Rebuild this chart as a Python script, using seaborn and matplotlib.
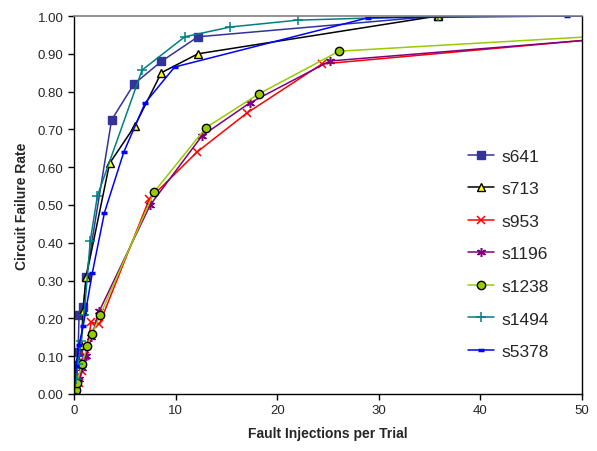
import matplotlib
matplotlib.use("Agg")
import matplotlib.pyplot as plt
import seaborn as sns
import numpy as np
from matplotlib.ticker import FormatStrFormatter, MultipleLocator

sns.set_style("white")
plt.rcParams['font.family'] = ['Liberation Sans', 'DejaVu Sans']

# ---- data ----
s641_x = [0, 0.1, 0.4, 0.5, 0.9, 1.2, 3.7, 5.9, 8.6, 12.2, 35.8, 50]
s641_y = [0, 0.03, 0.11, 0.21, 0.23, 0.31, 0.725, 0.82, 0.88, 0.945, 1.0, 1.0]

s713_x = [0, 0.2, 0.4, 0.7, 0.9, 1.2, 3.5, 6.0, 8.6, 12.2, 35.8, 50]
s713_y = [0, 0.02, 0.09, 0.13, 0.22, 0.31, 0.61, 0.71, 0.85, 0.90, 1.0, 1.0]

s953_x = [0, 0.2, 0.5, 0.8, 1.1, 1.7, 2.5, 7.4, 12.1, 17.0, 24.4, 50]
s953_y = [0, 0.01, 0.03, 0.06, 0.10, 0.19, 0.185, 0.515, 0.64, 0.743, 0.873, 0.935]

s1196_x = [0, 0.2, 0.5, 0.8, 1.2, 1.7, 2.5, 7.5, 12.6, 17.3, 25.2, 50]
s1196_y = [0, 0.01, 0.04, 0.07, 0.10, 0.15, 0.22, 0.50, 0.683, 0.77, 0.881, 0.935]

s1238_x = [0, 0.2, 0.3, 0.8, 1.3, 1.8, 2.6, 7.9, 13.0, 18.2, 26.1, 50]
s1238_y = [0, 0.01, 0.03, 0.08, 0.127, 0.16, 0.21, 0.535, 0.705, 0.794, 0.907, 0.944]

s1494_x = [0, 0.2, 0.4, 0.7, 1.0, 1.6, 2.3, 6.7, 10.9, 15.4, 22.0, 35.8, 50]
s1494_y = [0, 0.04, 0.08, 0.14, 0.21, 0.405, 0.524, 0.857, 0.945, 0.971, 0.989, 1.0, 1.0]

s5378_x = [0, 0.2, 0.5, 0.9, 1.8, 3.0, 4.9, 7.0, 9.9, 28.9, 48.5, 50]
s5378_y = [0, 0.074, 0.13, 0.18, 0.32, 0.48, 0.64, 0.77, 0.865, 0.995, 1.0, 1.0]

series = [
    ("s641", s641_x, s641_y, dict(color="#333399", marker="s", mfc="#333399", mec="#333399", ms=5.5)),
    ("s713", s713_x, s713_y, dict(color="black", marker="^", mfc="#FFFF00", mec="black", ms=6, mew=1.0)),
    ("s953", s953_x, s953_y, dict(color="#FF0000", marker="x", mfc="#FF0000", mec="#FF0000", ms=6, mew=1.1)),
    ("s1196", s1196_x, s1196_y, dict(color="#800080", marker=(6, 2, 0), mfc="#800080", mec="#800080", ms=6.5, mew=1.1)),
    ("s1238", s1238_x, s1238_y, dict(color="#99CC00", marker="o", mfc="#99CC00", mec="black", ms=6, mew=1.0)),
    ("s1494", s1494_x, s1494_y, dict(color="#008080", marker="+", mfc="#008080", mec="#008080", ms=7, mew=1.1)),
    ("s5378", s5378_x, s5378_y, dict(color="#0000FF", marker="_", mfc="#0000FF", mec="#0000FF", ms=4.5, mew=2.5)),
]

fig = plt.figure(figsize=(5.97, 4.52), dpi=100)
ax = fig.add_axes([74/597, 1-395/452, (582-74)/597, (395-17)/452])

for name, xs, ys, st in series:
    n = len(xs)
    sns.lineplot(x=xs, y=ys, ax=ax, sort=False, estimator=None, label=name,
                 color=st["color"], marker=st["marker"], markerfacecolor=st["mfc"],
                 markeredgecolor=st["mec"], markersize=st["ms"],
                 markeredgewidth=st.get("mew", 1.0), linewidth=1.1,
                 markevery=list(range(n - 1)))

ax.set_xlim(0, 50)
ax.set_ylim(0, 1.0)
ax.xaxis.set_major_locator(MultipleLocator(10))
ax.yaxis.set_major_locator(MultipleLocator(0.1))
ax.yaxis.set_major_formatter(FormatStrFormatter('%.2f'))
ax.tick_params(axis='both', which='major', direction='out', length=4, width=1,
               labelsize=9.5, color='black', left=True, bottom=True)
for side in ['left', 'bottom', 'right']:
    ax.spines[side].set_color('black')
    ax.spines[side].set_linewidth(1.0)
ax.spines['top'].set_color('#808080')
ax.spines['top'].set_linewidth(1.2)

ax.set_xlabel("Fault Injections per Trial", fontsize=10, fontweight='bold', labelpad=7)
ax.set_ylabel("Circuit Failure Rate", fontsize=10, fontweight='bold', labelpad=6)

leg = ax.legend(loc='upper left', bbox_to_anchor=(0.745, 0.69), frameon=False,
                fontsize=12.5, labelspacing=1.0, handlelength=1.5, handletextpad=0.4)

fig.savefig("out.png", dpi=100)
